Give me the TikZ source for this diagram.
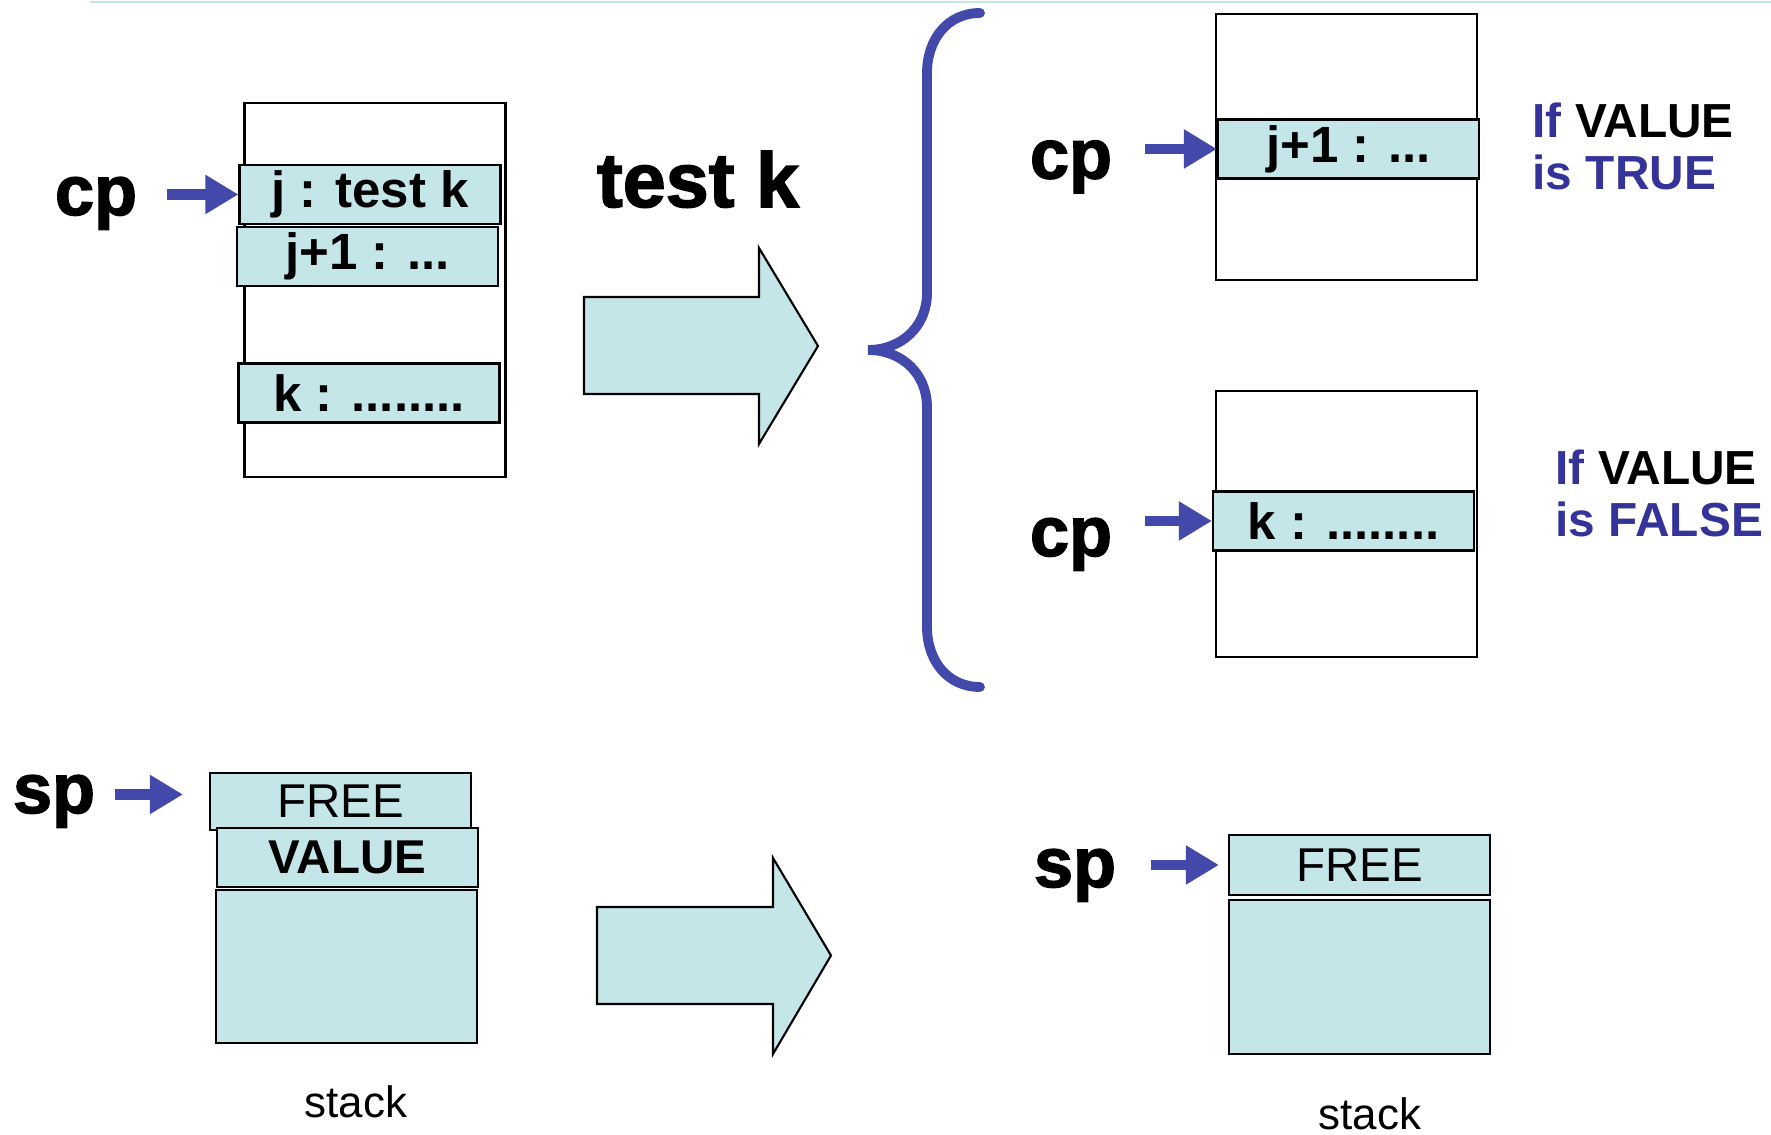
\documentclass[tikz,border=0pt]{standalone}
\usepackage{fontspec}
\setmainfont{Liberation Sans}
\newfontfamily\heavyfont[FakeBold=2]{Liberation Sans Bold}
\usepackage{xcolor}
\usepackage{tikz}
\usetikzlibrary{calc,arrows.meta}
\definecolor{cellbg}{HTML}{C5E6E8}
\definecolor{ptrblue}{HTML}{4349AB}
\definecolor{navy}{HTML}{333399}
\tikzset{
  mem/.style={draw=black, line width=0.6pt, fill=white, minimum width=2.61cm, inner sep=0pt},
  cell/.style={
    draw=black, line width=0.6pt, fill=cellbg,
    minimum width=2.61cm, minimum height=0.59cm, inner sep=0pt,
    font=\bfseries\fontsize{14.5}{16}\selectfont
  },
  plain/.style={font=\fontsize{13.5}{15}\selectfont},
  reg/.style={font=\heavyfont\fontsize{20}{22}\selectfont, anchor=base, inner sep=0pt},
  ptr/.style={draw=ptrblue, line width=3pt, -{Triangle[width=0.37cm,length=0.33cm]}},
  fat/.style={draw=black, line width=0.6pt, fill=cellbg, line join=miter},
  brace/.style={draw=ptrblue, line width=2.8pt, line cap=round},
  note/.style={font=\bfseries\fontsize{13.6}{14.8}\selectfont, align=left, anchor=west, inner sep=0pt},
  stacklbl/.style={font=\fontsize{12.5}{14}\selectfont, anchor=base, inner sep=0pt}
}

\begin{document}
\begin{tikzpicture}
  \useasboundingbox (0,0) rectangle (17.71,11.35);
  \draw[cellbg, line width=0.8pt] (0.90,11.33) -- (17.71,11.33);

  % code before the test
  \node[mem, minimum height=3.74cm] (codeA) at (3.75,8.45) {};
  \node[cell] (jA)  at (3.70,9.405) {j : test k};
  \node[cell] (j1A) at (3.675,8.785) {j+1 : ...};
  \node[cell] (kA)  at (3.69,7.42) {k : ........};
  \node[reg] (cpA) at (0.96,9.20) {cp};
  \draw[ptr, shorten <=0.29cm] (cpA.east |- jA.west) -- (jA.west);

  \node[reg, font=\heavyfont\fontsize{22}{24}\selectfont] (testk) at (6.98,9.28) {test k};
  \filldraw[fat] (5.84,8.38) -- (7.59,8.38) -- (7.59,8.87) -- (8.18,7.89)
    -- (7.59,6.91) -- (7.59,7.41) -- (5.84,7.41) -- cycle;

  \draw[brace] (9.80,11.22) .. controls (9.47,11.22) and (9.27,10.95) .. (9.27,10.62)
    -- (9.27,8.42) .. controls (9.27,8.09) and (9.02,7.85) .. (8.68,7.85)
    .. controls (9.02,7.85) and (9.27,7.61) .. (9.27,7.28)
    -- (9.27,5.08) .. controls (9.27,4.75) and (9.47,4.48) .. (9.80,4.48);

  % VALUE true
  \node[mem, minimum height=2.66cm] (codeT) at (13.465,9.88) {};
  \node[cell] (j1T) at (13.485,9.86) {j+1 : ...};
  \node[reg] (cpT) at (10.71,9.565) {cp};
  \draw[ptr, shorten <=0.32cm] (cpT.east |- j1T.west) -- (j1T.west);
  \node[note] (ifT) at (15.32,9.89) {\textcolor{navy}{If} VALUE\\\textcolor{navy}{is TRUE}};

  % VALUE false
  \node[mem, minimum height=2.66cm] (codeF) at (13.465,6.11) {};
  \node[cell] (kF) at (13.435,6.14) {k : ........};
  \node[reg] (cpF) at (10.71,5.79) {cp};
  \draw[ptr, shorten <=0.32cm] (cpF.east |- kF.west) -- (kF.west);
  \node[note] (ifF) at (15.55,6.42) {\textcolor{navy}{If} VALUE\\\textcolor{navy}{is FALSE}};

  % stack before
  \node[cell, plain, minimum height=0.57cm] (freeA) at (3.405,3.335) {FREE};
  \node[cell, font=\bfseries\fontsize{13.5}{15}\selectfont] (valA) at (3.475,2.775) {VALUE};
  \node[cell, minimum height=1.53cm] (stkA) at (3.465,1.685) {};
  \node[reg] (spA) at (0.54,3.22) {sp};
  \draw[ptr, shorten <=0.19cm, shorten >=0.26cm] ([yshift=0.07cm]spA.east |- freeA.west) -- ([yshift=0.07cm]freeA.west);
  \node[stacklbl] (lblA) at (3.56,0.17) {stack};

  \filldraw[fat] (5.97,2.28) -- (7.73,2.28) -- (7.73,2.77) -- (8.31,1.795)
    -- (7.73,0.81) -- (7.73,1.31) -- (5.97,1.31) -- cycle;

  % stack after
  \node[cell, plain, minimum height=0.60cm] (freeB) at (13.595,2.70) {FREE};
  \node[cell, minimum height=1.54cm] (stkB) at (13.595,1.58) {};
  \node[reg] (spB) at (10.75,2.48) {sp};
  \draw[ptr, shorten <=0.34cm, shorten >=0.09cm] (spB.east |- freeB.west) -- (freeB.west);
  \node[stacklbl] (lblB) at (13.70,0.05) {stack};
\end{tikzpicture}
\end{document}
